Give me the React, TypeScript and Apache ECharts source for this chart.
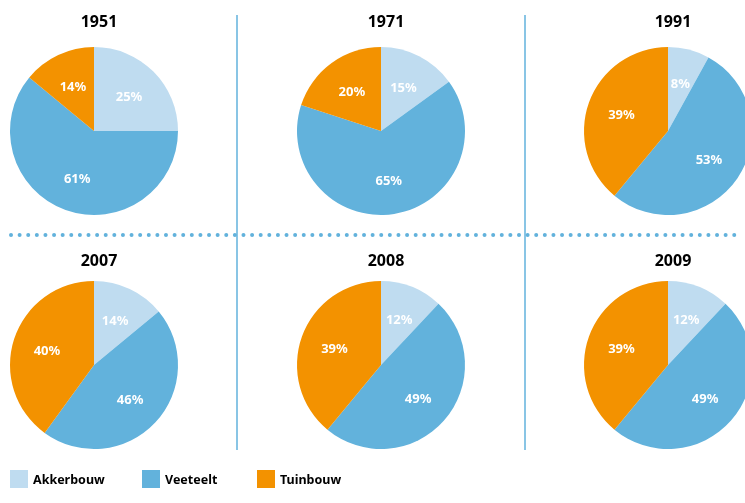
import React, { useEffect, useRef } from "react";
import * as echarts from "echarts";

const categories = ["Akkerbouw", "Veeteelt", "Tuinbouw"];
const years = ["1951", "1971", "1991", "2007", "2008", "2009"];
const akkerbouw = [25, 15, 8, 14, 12, 12];
const veeteelt = [61, 65, 53, 46, 49, 49];
const tuinbouw = [14, 20, 39, 40, 39, 39];
const colors = ["#bfdcf0", "#62b2dc", "#f39200"];

const centersX = [94, 381, 668];
const centersY = [131, 365];
const titleY = [8, 247];
const radius = 84;
const labelScale = 1.1;
const font = "'Noto Sans', 'DejaVu Sans', sans-serif";

export default function App() {
  const ref = useRef<HTMLDivElement>(null);
  useEffect(() => {
    if (!ref.current) return;
    const chart = echarts.init(ref.current, null, { renderer: "svg" });
    const series = years.map((y, i) => {
      const cx = centersX[i % 3];
      const cy = centersY[Math.floor(i / 3)];
      return {
        type: "pie",
        name: y,
        center: [cx, cy],
        radius: [0, radius],
        startAngle: 90,
        clockwise: true,
        silent: true,
        label: {
          show: true,
          position: "inside",
          formatter: "{c}%",
          color: "#ffffff",
          fontWeight: "bold",
          fontSize: 13,
          fontFamily: font,
        },
        labelLayout: (p: any) => {
          const r = p.labelRect;
          const lx = r.x + r.width / 2;
          const ly = r.y + r.height / 2;
          return {
            x: cx + (lx - cx) * labelScale,
            y: cy + (ly - cy) * labelScale,
            align: "center",
            verticalAlign: "middle",
          };
        },
        labelLine: { show: false },
        itemStyle: { borderWidth: 0 },
        data: [
          { name: categories[0], value: akkerbouw[i] },
          { name: categories[1], value: veeteelt[i] },
          { name: categories[2], value: tuinbouw[i] },
        ],
      };
    });
    const titles = years.map((y, i) => ({
      text: y,
      left: centersX[i % 3],
      top: titleY[Math.floor(i / 3)],
      textAlign: "center",
      textStyle: { fontSize: 16, fontWeight: "bold", color: "#000", fontFamily: font },
    }));
    const legendLefts = [10, 142, 257];
    const legends = categories.map((c, i) => ({
      data: [c],
      left: legendLefts[i],
      top: 470,
      padding: 0,
      itemWidth: 18,
      itemHeight: 18,
      itemGap: 6,
      icon: "rect",
      selectedMode: false,
      textStyle: { fontSize: 12.5, fontWeight: "bold", color: "#000", fontFamily: font },
    }));
    chart.setOption({
      animation: false,
      color: colors,
      title: titles,
      legend: legends,
      series,
      graphic: [
        { type: "line", shape: { x1: 237, y1: 15, x2: 237, y2: 450 }, style: { stroke: "#62b2dc", lineWidth: 1.5 } },
        { type: "line", shape: { x1: 525, y1: 15, x2: 525, y2: 450 }, style: { stroke: "#62b2dc", lineWidth: 1.5 } },
        {
          type: "line",
          shape: { x1: 11, y1: 235, x2: 742, y2: 235 },
          style: { stroke: "#62b2dc", lineWidth: 4, lineCap: "round", lineDash: [0.01, 8.6] },
        },
      ],
    });
    return () => chart.dispose();
  }, []);
  return <div ref={ref} style={{ position: "fixed", left: 0, top: 0, width: 745, height: 503 }} />;
}
